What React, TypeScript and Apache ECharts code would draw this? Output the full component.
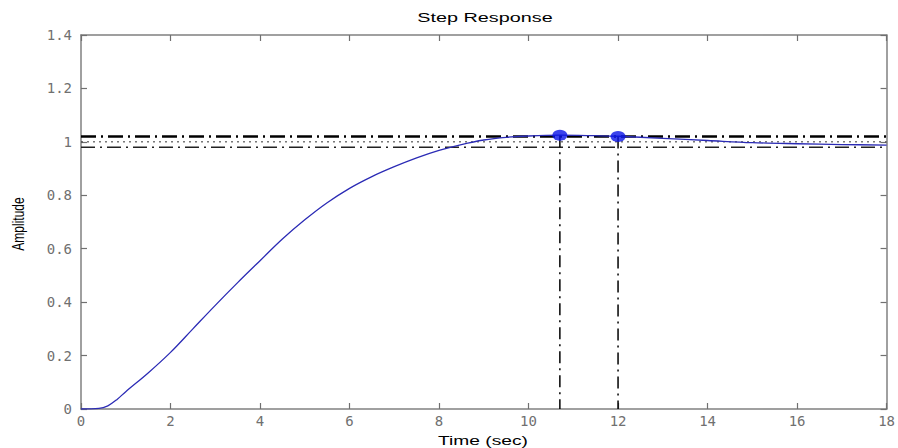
import React, { useEffect, useRef } from "react";
import * as echarts from "echarts";

const times = [0, 0.4, 0.6, 0.8, 1.0, 1.5, 2.0, 2.5, 3.0, 3.5, 4.0, 4.5, 5.0, 5.5, 6.0, 6.5, 7.0, 7.5, 8.0, 8.5, 9.0, 9.5, 10.0, 10.7, 11.5, 12.0, 13.0, 14.0, 15.0, 16.0, 17.0, 18.0];
const amplitude = [0, 0.002, 0.012, 0.035, 0.065, 0.135, 0.212, 0.3, 0.388, 0.473, 0.555, 0.636, 0.708, 0.772, 0.826, 0.87, 0.907, 0.94, 0.968, 0.99, 1.007, 1.017, 1.022, 1.025, 1.023, 1.021, 1.013, 1.005, 0.997, 0.993, 0.99, 0.988];

const peakTime = 10.7;
const peakAmp = 1.025;
const settleTime = 12;
const settleAmp = 1.02;
const bandUpper = 1.02;
const finalValue = 1.0;
const bandLower = 0.98;
const tMin = 0;
const tMax = 18;
const tStep = 2;
const aMin = 0;
const aMax = 1.4;
const aStep = 0.2;

const titleText = "Step Response";
const xName = "Time (sec)";
const yName = "Amplitude";

export default function App() {
  const ref = useRef<HTMLDivElement>(null);
  useEffect(() => {
    if (!ref.current) return;
    const chart = echarts.init(ref.current, null, { renderer: "svg" });
    const axisColor = "#808080";
    const labelColor = "#707070";
    const labelFont = "'DejaVu Sans Mono', monospace";
    const curve = times.map((t, i) => [t, amplitude[i]]);
    const hLine = (y: number) => [
      [tMin, y],
      [tMax, y],
    ];
    const tick = () => ({ show: true, inside: true, length: 6, lineStyle: { color: "#707070", width: 1.2 } });
    const line = () => ({ show: true, onZero: false, lineStyle: { color: axisColor, width: 1.5 } });
    chart.setOption({
      animation: false,
      backgroundColor: "#ffffff",
      grid: { left: 81, right: 7, top: 35, bottom: 39 },
      graphic: [
        {
          type: "text",
          x: 485,
          y: 18,
          scaleX: 1.65,
          style: {
            text: titleText,
            fill: "#000",
            font: "12px 'Liberation Sans', Arial, sans-serif",
            textAlign: "center",
            textVerticalAlign: "middle",
          },
        },
        {
          type: "text",
          x: 483,
          y: 441,
          scaleX: 1.6,
          style: {
            text: xName,
            fill: "#000",
            font: "12px 'Liberation Sans', Arial, sans-serif",
            textAlign: "center",
            textVerticalAlign: "middle",
          },
        },
        {
          type: "text",
          x: 18,
          y: 224,
          rotation: Math.PI / 2,
          scaleY: 1.35,
          style: {
            text: yName,
            fill: "#000",
            font: "12px 'Liberation Sans', Arial, sans-serif",
            textAlign: "center",
            textVerticalAlign: "middle",
          },
        },
      ],
      xAxis: [
        {
          type: "value",
          min: tMin,
          max: tMax,
          interval: tStep,
          position: "bottom",
          axisLine: line(),
          axisTick: tick(),
          axisLabel: { color: labelColor, fontSize: 14, fontFamily: labelFont, margin: 5 },
          splitLine: { show: false },
        },
        {
          type: "value",
          min: tMin,
          max: tMax,
          interval: tStep,
          position: "top",
          axisLine: line(),
          axisTick: tick(),
          axisLabel: { show: false },
          splitLine: { show: false },
        },
      ],
      yAxis: [
        {
          type: "value",
          min: aMin,
          max: aMax,
          interval: aStep,
          position: "left",
          axisLine: line(),
          axisTick: tick(),
          axisLabel: { color: labelColor, fontSize: 14, fontFamily: labelFont, margin: 9 },
          splitLine: { show: false },
        },
        {
          type: "value",
          min: aMin,
          max: aMax,
          interval: aStep,
          position: "right",
          axisLine: line(),
          axisTick: tick(),
          axisLabel: { show: false },
          splitLine: { show: false },
        },
      ],
      series: [
        {
          type: "line",
          data: hLine(bandLower),
          symbol: "none",
          lineStyle: { color: "#222", width: 1.5, type: [14, 5, 2, 5] },
          z: 2,
        },
        {
          type: "line",
          data: hLine(finalValue),
          symbol: "none",
          lineStyle: { color: "#333", width: 1, type: [2, 4] },
          z: 2,
        },
        {
          type: "line",
          data: hLine(bandUpper),
          symbol: "none",
          lineStyle: { color: "#000", width: 2.5, type: [15, 5, 2, 5] },
          z: 2,
        },
        {
          type: "line",
          data: [
            [peakTime, peakAmp],
            [peakTime, 0],
          ],
          symbol: "none",
          lineStyle: { color: "#000", width: 1.5, type: [12, 5, 2, 5] },
          z: 2,
        },
        {
          type: "line",
          data: [
            [settleTime, settleAmp],
            [settleTime, 0],
          ],
          symbol: "none",
          lineStyle: { color: "#000", width: 1.5, type: [12, 5, 2, 5] },
          z: 2,
        },
        {
          type: "line",
          data: curve,
          symbol: "none",
          smooth: 0.35,
          lineStyle: { color: "#2b2bb5", width: 1.3 },
          z: 3,
        },
        {
          type: "scatter",
          data: [
            [peakTime, peakAmp],
            [settleTime, settleAmp],
          ],
          symbol: "circle",
          symbolSize: [15, 11],
          itemStyle: { color: "#0a14e6" },
          z: 4,
        },
      ],
    });
    return () => chart.dispose();
  }, []);
  return (
    <div
      ref={ref}
      style={{ position: "fixed", left: 0, top: 0, width: 898, height: 448 }}
    />
  );
}
